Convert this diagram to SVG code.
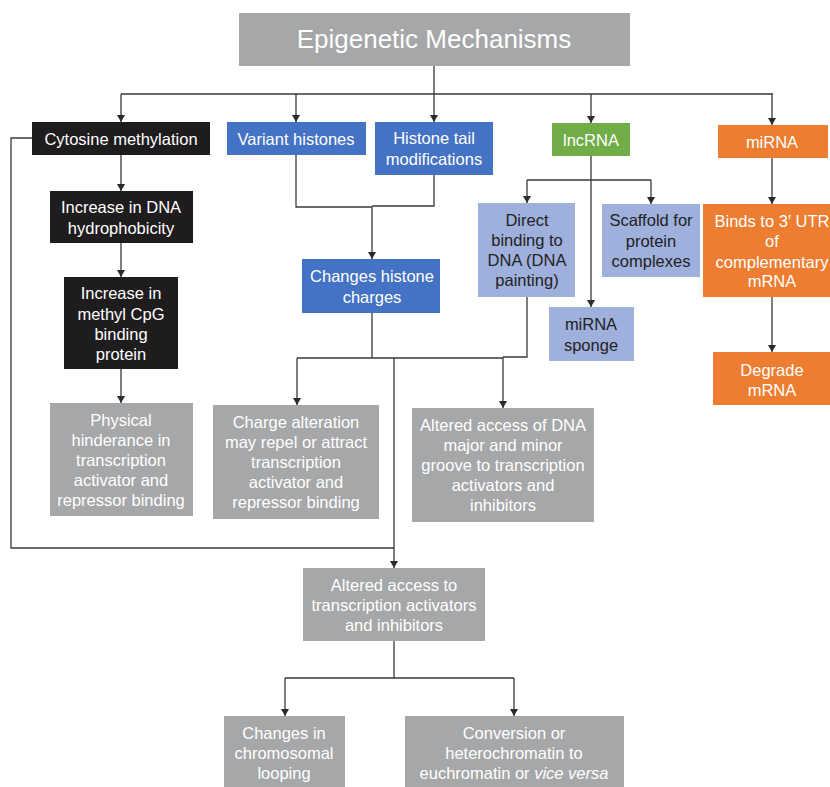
<svg xmlns="http://www.w3.org/2000/svg" width="830" height="787" viewBox="0 0 830 787">
<style>
.t{font-family:"Liberation Sans",Arial,sans-serif;font-size:16.5px;text-anchor:middle}
.w{fill:#ffffff}
.k{fill:#222222}
.gray{fill:#a6a7a9}
.black{fill:#1e1c1d}
.blue{fill:#4472c4}
.lblue{fill:#9fb0dc}
.green{fill:#70ad47}
.orange{fill:#ed7d31}
.c{fill:none;stroke:#3a3a3a;stroke-width:1.3}
</style>
<defs>
<marker id="a" markerUnits="userSpaceOnUse" markerWidth="8" markerHeight="8" refX="7" refY="4" orient="auto">
<path d="M0,0 L7,4 L0,8 z" fill="#2a2a2a"/>
</marker>
</defs>
<rect width="830" height="787" fill="#ffffff"/>
<g id="connectors">
<path class="c" d="M434,66 V94 M121,94 H773"/>
<path class="c" d="M121,94 V122" marker-end="url(#a)"/>
<path class="c" d="M296,94 V122" marker-end="url(#a)"/>
<path class="c" d="M434,94 V122" marker-end="url(#a)"/>
<path class="c" d="M591,94 V123" marker-end="url(#a)"/>
<path class="c" d="M772,94 V125" marker-end="url(#a)"/>
<path class="c" d="M121,155 V191" marker-end="url(#a)"/>
<path class="c" d="M121,243 V277" marker-end="url(#a)"/>
<path class="c" d="M121,369 V403" marker-end="url(#a)"/>
<path class="c" d="M32,138 H11 V548 H394"/>
<path class="c" d="M296,155 V207 H372 M434,175 V206 H372"/>
<path class="c" d="M372,207 V259" marker-end="url(#a)"/>
<path class="c" d="M372,313 V358 M297,358 H503 M527,297 V357 H503"/>
<path class="c" d="M297,358 V405" marker-end="url(#a)"/>
<path class="c" d="M503,357 V408" marker-end="url(#a)"/>
<path class="c" d="M394,358 V568" marker-end="url(#a)"/>
<path class="c" d="M591,156 V307" marker-end="url(#a)"/>
<path class="c" d="M527,180 H651"/>
<path class="c" d="M527,180 V203" marker-end="url(#a)"/>
<path class="c" d="M651,180 V204" marker-end="url(#a)"/>
<path class="c" d="M772,158 V204" marker-end="url(#a)"/>
<path class="c" d="M772,297 V352" marker-end="url(#a)"/>
<path class="c" d="M394,641 V678 M285,678 H514"/>
<path class="c" d="M285,678 V716" marker-end="url(#a)"/>
<path class="c" d="M514,678 V716" marker-end="url(#a)"/>
</g>
<g id="title">
<rect class="gray" x="239" y="13" width="391" height="53"/>
<text class="t w" x="434" y="48" style="font-size:26px">Epigenetic Mechanisms</text>
</g>
<g id="cytosine">
<rect class="black" x="32" y="122" width="178" height="33"/>
<text class="t w" x="121" y="145">Cytosine methylation</text>
</g>
<g id="variant">
<rect class="blue" x="227" y="122" width="139" height="33"/>
<text class="t w" x="296" y="145">Variant histones</text>
</g>
<g id="histonetail">
<rect class="blue" x="375" y="122" width="118" height="53"/>
<text class="t w" x="434" y="144">Histone tail</text>
<text class="t w" x="434" y="165">modifications</text>
</g>
<g id="lncrna">
<rect class="green" x="552" y="123" width="78" height="33"/>
<text class="t w" x="591" y="146">lncRNA</text>
</g>
<g id="mirna">
<rect class="orange" x="718" y="125" width="110" height="33"/>
<text class="t w" x="772" y="148">miRNA</text>
</g>
<g id="hydrophobicity">
<rect class="black" x="50" y="191" width="143" height="52"/>
<text class="t w" x="121" y="213">Increase in DNA</text>
<text class="t w" x="121" y="234">hydrophobicity</text>
</g>
<g id="cpg">
<rect class="black" x="64" y="277" width="114" height="92"/>
<text class="t w" x="121" y="299">Increase in</text>
<text class="t w" x="121" y="320">methyl CpG</text>
<text class="t w" x="121" y="340">binding</text>
<text class="t w" x="121" y="360">protein</text>
</g>
<g id="physical">
<rect class="gray" x="50" y="403" width="143" height="113"/>
<text class="t w" x="121" y="426">Physical</text>
<text class="t w" x="121" y="446">hinderance in</text>
<text class="t w" x="121" y="466">transcription</text>
<text class="t w" x="121" y="486">activator and</text>
<text class="t w" x="121" y="506">repressor binding</text>
</g>
<g id="charges">
<rect class="blue" x="302" y="259" width="138" height="54"/>
<text class="t w" x="372" y="282">Changes histone</text>
<text class="t w" x="372" y="303">charges</text>
</g>
<g id="chargealt">
<rect class="gray" x="213" y="405" width="166" height="114"/>
<text class="t w" x="296" y="428">Charge alteration</text>
<text class="t w" x="296" y="448">may repel or attract</text>
<text class="t w" x="296" y="468">transcription</text>
<text class="t w" x="296" y="488">activator and</text>
<text class="t w" x="296" y="508">repressor binding</text>
</g>
<g id="direct">
<rect class="lblue" x="478" y="203" width="97" height="94"/>
<text class="t k" x="527" y="226">Direct</text>
<text class="t k" x="527" y="246">binding to</text>
<text class="t k" x="527" y="266">DNA (DNA</text>
<text class="t k" x="527" y="286">painting)</text>
</g>
<g id="scaffold">
<rect class="lblue" x="602" y="204" width="98" height="73"/>
<text class="t k" x="651" y="226">Scaffold for</text>
<text class="t k" x="651" y="247">protein</text>
<text class="t k" x="651" y="267">complexes</text>
</g>
<g id="sponge">
<rect class="lblue" x="549" y="307" width="85" height="54"/>
<text class="t k" x="591" y="330">miRNA</text>
<text class="t k" x="591" y="351">sponge</text>
</g>
<g id="binds">
<rect class="orange" x="703" y="204" width="140" height="93"/>
<text class="t w" x="772" y="227">Binds to 3′ UTR</text>
<text class="t w" x="772" y="247">of</text>
<text class="t w" x="772" y="268">complementary</text>
<text class="t w" x="772" y="287">mRNA</text>
</g>
<g id="degrade">
<rect class="orange" x="713" y="352" width="130" height="53"/>
<text class="t w" x="772" y="376">Degrade</text>
<text class="t w" x="772" y="396">mRNA</text>
</g>
<g id="groove">
<rect class="gray" x="412" y="408" width="182" height="114"/>
<text class="t w" x="503" y="431">Altered access of DNA</text>
<text class="t w" x="503" y="451">major and minor</text>
<text class="t w" x="503" y="471">groove to transcription</text>
<text class="t w" x="503" y="491">activators and</text>
<text class="t w" x="503" y="511">inhibitors</text>
</g>
<g id="access">
<rect class="gray" x="303" y="568" width="182" height="73"/>
<text class="t w" x="394" y="591">Altered access to</text>
<text class="t w" x="394" y="611">transcription activators</text>
<text class="t w" x="394" y="631">and inhibitors</text>
</g>
<g id="looping">
<rect class="gray" x="224" y="716" width="121" height="75"/>
<text class="t w" x="284" y="739">Changes in</text>
<text class="t w" x="284" y="759">chromosomal</text>
<text class="t w" x="284" y="779">looping</text>
</g>
<g id="conversion">
<rect class="gray" x="405" y="716" width="219" height="75"/>
<text class="t w" x="514" y="739">Conversion or</text>
<text class="t w" x="514" y="759">heterochromatin to</text>
<text class="t w" x="514" y="779">euchromatin or <tspan font-style="italic">vice versa</tspan></text>
</g>
</svg>
